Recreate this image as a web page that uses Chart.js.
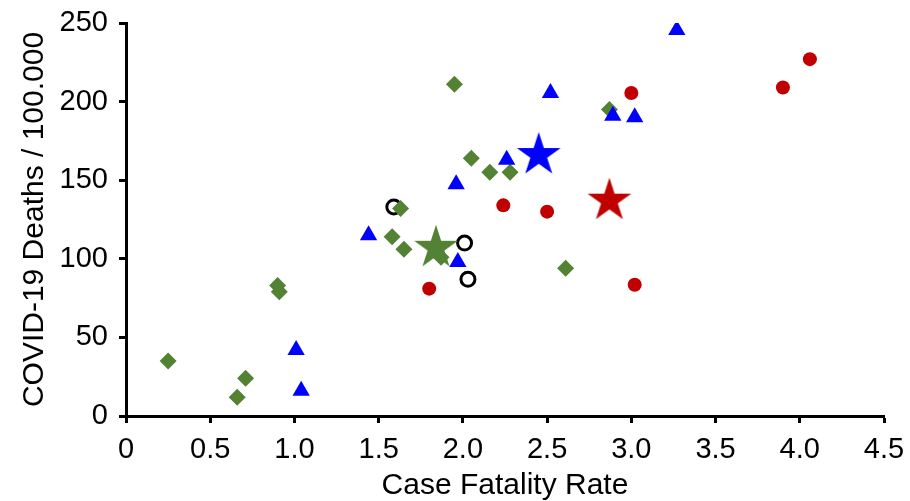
<!DOCTYPE html>
<html>
<head>
<meta charset="utf-8">
<script src="https://cdn.jsdelivr.net/npm/chart.js@4.4.0/dist/chart.umd.min.js"></script>
<style>
  html, body { margin: 0; padding: 0; background: #fff; }
  #wrap { width: 910px; height: 501px; }
</style>
</head>
<body>
<div id="wrap"><canvas id="chartCfr"></canvas></div>
<script>
// values
var greenX = [0.25, 0.66, 0.71, 0.90, 0.91, 1.58, 1.63, 1.65, 1.87, 1.95, 2.05, 2.16, 2.28, 2.61, 2.87];
var greenY = [35, 12, 24, 83, 79, 114, 132, 106, 101, 211, 164, 155, 155, 94, 195];
var blueX = [1.01, 1.04, 1.44, 1.96, 1.97, 2.26, 2.52, 2.89, 3.02, 3.27];
var blueY = [42, 16, 115, 147.5, 98, 163, 205.5, 191, 190, 245.5];
var redX = [1.80, 2.24, 2.50, 3.00, 3.02, 3.90, 4.06];
var redY = [81, 134, 130, 205.5, 83.5, 209, 227];
var openX = [1.59, 2.01, 2.03];
var openY = [133, 110, 87];
var starX = [1.84, 2.45, 2.87];
var starY = [107, 166, 137];
var xTicks = [0, 0.5, 1.0, 1.5, 2.0, 2.5, 3.0, 3.5, 4.0, 4.5];
var yTicks = [0, 50, 100, 150, 200, 250];

var GREEN = "#548235", BLUE = "#0000FF", RED = "#C00000";

function pts(xs, ys) {
    return xs.map(function (x, i) { return { x: x, y: ys[i] }; });
}

// filled five point star as an image for pointStyle
function makeStar(color, r) {
    var c = document.createElement("canvas");
    var s = Math.ceil(r * 2 + 4);
    c.width = s; c.height = s;
    var ctx = c.getContext("2d");
    var cx = s / 2, cy = s / 2, inner = r * 0.382;
    ctx.beginPath();
    for (var i = 0; i < 10; i++) {
        var rr = i % 2 === 0 ? r : inner;
        var a = -Math.PI / 2 + i * Math.PI / 5;
        var px = cx + Math.cos(a) * rr, py = cy + Math.sin(a) * rr;
        i === 0 ? ctx.moveTo(px, py) : ctx.lineTo(px, py);
    }
    ctx.closePath();
    ctx.fillStyle = color;
    ctx.fill();
    return c;
}

var tickFont = { family: "'Liberation Sans', Arial, sans-serif", size: 29 };
var titleFont = { family: "'Liberation Sans', Arial, sans-serif", size: 30, lineHeight: 1 };

const cfr = document.getElementById("chartCfr");
var chartCfr = new Chart(cfr, {
    type: "scatter",
    data: {
        // first dataset is drawn on top
        datasets: [
            { data: [{ x: starX[2], y: starY[2] }], pointStyle: makeStar(RED, 23) },
            { data: pts(redX, redY), pointStyle: "circle", pointRadius: 7, backgroundColor: RED, borderColor: RED, borderWidth: 0 },
            { data: [{ x: starX[1], y: starY[1] }], pointStyle: makeStar(BLUE, 23) },
            { data: pts(blueX, blueY), pointStyle: "triangle", pointRadius: 10, backgroundColor: BLUE, borderColor: BLUE, borderWidth: 0 },
            { data: [{ x: starX[0], y: starY[0] }], pointStyle: makeStar(GREEN, 23) },
            { data: pts(greenX, greenY), pointStyle: "rectRot", pointRadius: 8.5, backgroundColor: GREEN, borderColor: GREEN, borderWidth: 0 },
            { data: pts(openX, openY), pointStyle: "circle", pointRadius: 7, backgroundColor: "#fff", borderColor: "#000", borderWidth: 3 },
        ],
    },
    options: {
        responsive: true,
        maintainAspectRatio: false,
        animation: false,
        layout: { padding: { left: 8, right: 26, top: 23, bottom: 0 } },
        scales: {
            x: {
                type: "linear",
                min: 0,
                max: 4.5,
                afterBuildTicks: (s) => { s.ticks = xTicks.map((v) => ({ value: v })); },
                afterFit: (s) => { s.height = 85; s.paddingLeft = 0; s.paddingRight = 0; },
                ticks: {
                    color: "#000",
                    font: tickFont,
                    padding: 10,
                    maxRotation: 0,
                    callback: (v) => (v === 0 ? "0" : v.toFixed(1)),
                },
                grid: { drawOnChartArea: false, drawTicks: true, tickLength: 7, tickWidth: 3, tickColor: "#000" },
                border: { color: "#000", width: 3 },
                title: { display: true, text: "Case Fatality Rate", color: "#000", font: titleFont, padding: 0 },
            },
            y: {
                type: "linear",
                min: 0,
                max: 250,
                afterBuildTicks: (s) => { s.ticks = yTicks.map((v) => ({ value: v })); },
                afterFit: (s) => { s.width = 118; s.paddingTop = 0; s.paddingBottom = 0; },
                ticks: { color: "#000", font: tickFont, padding: 11 },
                grid: { drawOnChartArea: false, drawTicks: true, tickLength: 7, tickWidth: 3, tickColor: "#000" },
                border: { color: "#000", width: 3 },
                title: { display: true, text: "COVID-19 Deaths / 100.000", color: "#000", font: titleFont, padding: { top: 12, bottom: 0 } },
            },
        },
        plugins: {
            legend: { display: false },
            tooltip: { enabled: false },
        },
    },
});
</script>
</body>
</html>
